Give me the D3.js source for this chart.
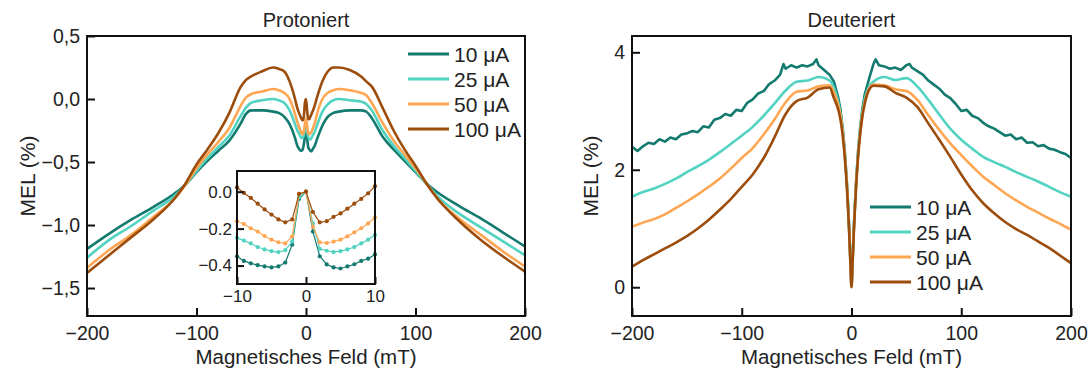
<!DOCTYPE html>
<html>
<head>
<meta charset="utf-8">
<script src="https://cdn.jsdelivr.net/npm/d3@7"></script>
<style>
  body { margin: 0; background: #fff; }
  text { font-family: "Liberation Sans", Arial, sans-serif; fill: #222; }
</style>
</head>
<body>
<div id="chart"></div>
<script>
// series labels and colours
const seriesNames = ['10 μA', '25 μA', '50 μA', '100 μA'];
const seriesColors = ['#137a6f', '#52d3c2', '#ffa653', '#9c4d0c'];

// Protoniert (main panel)
const protX = [-200,-180,-160,-140,-120,-110,-100,-90,-80,-70,-60,-55,-50,-40,-30,-25,-20,-15,-10,-8,-6,-5,-4,-3,-2,-1,0,
  1,2,3,4,5,6,8,10,15,20,25,30,40,50,55,60,70,80,90,100,110,120,140,160,180,200];
const prot10 = [-1.19,-1.07,-0.96,-0.86,-0.75,-0.68,-0.58,-0.49,-0.41,-0.33,-0.20,-0.12,-0.09,-0.09,-0.10,-0.11,-0.14,-0.20,-0.31,-0.37,-0.40,-0.41,-0.41,-0.40,-0.36,-0.30,-0.25,
  -0.31,-0.38,-0.40,-0.41,-0.415,-0.40,-0.37,-0.32,-0.21,-0.14,-0.11,-0.10,-0.09,-0.09,-0.10,-0.15,-0.30,-0.40,-0.49,-0.58,-0.67,-0.74,-0.85,-0.95,-1.06,-1.17];
const prot25 = [-1.26,-1.12,-1.01,-0.89,-0.77,-0.68,-0.57,-0.47,-0.38,-0.29,-0.14,-0.07,-0.03,-0.01,0.00,-0.01,-0.03,-0.09,-0.20,-0.25,-0.28,-0.30,-0.31,-0.31,-0.29,-0.24,-0.20,
  -0.25,-0.30,-0.32,-0.32,-0.31,-0.29,-0.26,-0.21,-0.10,-0.04,-0.01,0.00,-0.01,-0.02,-0.04,-0.09,-0.25,-0.37,-0.47,-0.57,-0.67,-0.77,-0.91,-1.02,-1.13,-1.24];
const prot50 = [-1.34,-1.20,-1.08,-0.94,-0.79,-0.68,-0.55,-0.44,-0.34,-0.23,-0.06,0.01,0.04,0.06,0.08,0.07,0.05,0.00,-0.12,-0.18,-0.23,-0.25,-0.27,-0.28,-0.26,-0.20,-0.16,
  -0.21,-0.27,-0.28,-0.27,-0.26,-0.24,-0.19,-0.12,0.00,0.05,0.07,0.08,0.07,0.05,0.03,-0.03,-0.19,-0.33,-0.44,-0.55,-0.67,-0.79,-0.95,-1.08,-1.21,-1.33];
const prot100 = [-1.38,-1.24,-1.10,-0.96,-0.79,-0.67,-0.52,-0.40,-0.27,-0.11,0.09,0.15,0.18,0.22,0.25,0.24,0.22,0.14,0.00,-0.07,-0.12,-0.14,-0.16,-0.17,-0.14,-0.03,0.00,
  -0.09,-0.16,-0.16,-0.14,-0.12,-0.10,-0.05,0.01,0.14,0.22,0.25,0.25,0.23,0.18,0.14,0.10,-0.07,-0.25,-0.40,-0.53,-0.67,-0.79,-0.97,-1.12,-1.25,-1.37];

// Protoniert inset (-10 ... 10 mT, 1 mT steps)
const insetX = [-10,-9,-8,-7,-6,-5,-4,-3,-2,-1,0,1,2,3,4,5,6,7,8,9,10];
const inset10 = [-0.35,-0.375,-0.388,-0.398,-0.405,-0.41,-0.405,-0.384,-0.287,-0.039,0,-0.216,-0.35,-0.394,-0.41,-0.416,-0.405,-0.393,-0.375,-0.363,-0.34];
const inset25 = [-0.25,-0.265,-0.28,-0.30,-0.313,-0.322,-0.327,-0.317,-0.27,-0.03,0,-0.172,-0.31,-0.32,-0.327,-0.322,-0.313,-0.30,-0.28,-0.26,-0.234];
const inset50 = [-0.16,-0.175,-0.198,-0.216,-0.24,-0.26,-0.274,-0.28,-0.242,-0.012,0,-0.19,-0.274,-0.278,-0.27,-0.26,-0.242,-0.22,-0.198,-0.172,-0.14];
const inset100 = [0.023,-0.007,-0.034,-0.065,-0.096,-0.124,-0.15,-0.166,-0.15,-0.012,0,-0.11,-0.166,-0.16,-0.136,-0.118,-0.092,-0.065,-0.039,-0.009,0.03];

// Deuteriert
const deutX = [-200,-190,-180,-170,-160,-150,-140,-130,-120,-110,-100,-90,-80,-70,-60,-50,-40,-30,-20,-16,-12,-10,-8,-6,-4,-3,-2,-1,0,
  1,2,3,4,6,8,10,12,16,20,30,40,50,60,70,80,90,100,110,120,130,140,150,160,170,180,190,200];
const deut25 = [1.54,1.62,1.68,1.76,1.85,1.96,2.06,2.17,2.30,2.44,2.58,2.73,2.92,3.13,3.35,3.50,3.52,3.58,3.52,3.40,3.15,2.95,2.65,2.25,1.70,1.35,0.95,0.45,0.02,
  0.45,0.95,1.35,1.70,2.30,2.70,3.00,3.20,3.42,3.50,3.58,3.53,3.56,3.42,3.19,2.94,2.70,2.51,2.36,2.22,2.13,2.05,1.96,1.88,1.80,1.71,1.62,1.54];
const deut50 = [1.03,1.10,1.16,1.24,1.35,1.46,1.58,1.71,1.85,2.02,2.20,2.37,2.60,2.86,3.15,3.33,3.35,3.42,3.44,3.32,3.10,2.92,2.63,2.22,1.68,1.32,0.92,0.42,0.01,
  0.42,0.92,1.32,1.68,2.25,2.66,2.95,3.14,3.38,3.45,3.44,3.37,3.34,3.19,2.93,2.68,2.45,2.25,2.06,1.88,1.74,1.60,1.48,1.37,1.27,1.17,1.08,0.98];
const deut100 = [0.35,0.46,0.56,0.66,0.76,0.87,1.00,1.15,1.32,1.50,1.71,1.92,2.20,2.56,2.95,3.17,3.23,3.37,3.40,3.22,3.02,2.85,2.58,2.18,1.64,1.28,0.88,0.40,0.00,
  0.40,0.88,1.28,1.64,2.22,2.62,2.92,3.12,3.36,3.43,3.42,3.31,3.23,3.07,2.79,2.51,2.22,1.92,1.65,1.43,1.26,1.11,0.99,0.89,0.78,0.67,0.54,0.41];
// the 10 μA trace is noisy, sampled finer
const deut10X = [-200,-195,-190,-185,-180,-175,-170,-165,-160,-155,-150,-145,-140,-135,-130,-125,-120,-115,-110,-105,-100,-95,-90,-85,-80,-75,-70,-65,-62,-60,-55,-50,-45,-40,-35,-32,-30,-25,-20,
  -16,-12,-10,-8,-6,-4,-3,-2,-1,0,1,2,3,4,6,8,10,12,16,
  20,22,25,30,35,40,45,50,53,55,60,65,70,75,80,85,90,95,100,105,110,115,120,125,130,135,140,145,150,155,160,165,170,175,180,185,190,195,200];
const deut10 = [2.39,2.32,2.40,2.46,2.44,2.52,2.48,2.55,2.52,2.60,2.62,2.66,2.64,2.74,2.72,2.85,2.88,2.95,2.92,3.02,3.00,3.14,3.20,3.30,3.34,3.46,3.52,3.62,3.80,3.72,3.78,3.74,3.78,3.76,3.80,3.88,3.78,3.70,3.62,
  3.50,3.22,3.02,2.70,2.28,1.72,1.36,0.96,0.46,0.02,0.46,0.96,1.36,1.72,2.32,2.74,3.05,3.28,3.55,
  3.80,3.88,3.78,3.76,3.72,3.74,3.70,3.78,3.80,3.74,3.68,3.62,3.52,3.45,3.38,3.28,3.22,3.12,3.00,3.02,2.92,2.88,2.80,2.74,2.70,2.64,2.58,2.60,2.52,2.55,2.46,2.47,2.40,2.42,2.36,2.34,2.30,2.27,2.20];

const xTicks = [-200, -100, 0, 100, 200];
const protTicks = [0.5, 0, -0.5, -1, -1.5];
const deutTicks = [0, 2, 4];
const insetXTicks = [-10, 0, 10];
const insetYTicks = [0, -0.2, -0.4];

const svg = d3.select('#chart').append('svg')
  .attr('width', 1089)
  .attr('height', 369);

const toSeries = (xs, ys) => xs.map((x, i) => ({x: x, y: ys[i]}));
const comma = v => d3.format('.1f')(v).replace('.', ',');

function drawPanel(opt) {
  const x = d3.scaleLinear().domain([-200, 200]).range([opt.left, opt.right]);
  const y = d3.scaleLinear().domain(opt.yDomain).range([opt.bottom, opt.top]);

  const clipId = 'clip-' + opt.id;
  svg.append('clipPath').attr('id', clipId)
    .append('rect')
    .attr('x', opt.left).attr('y', opt.top)
    .attr('width', opt.right - opt.left).attr('height', opt.bottom - opt.top);

  const g = svg.append('g').attr('clip-path', `url(#${clipId})`);
  opt.series.forEach((s, i) => {
    const line = d3.line()
      .x(d => x(d.x))
      .y(d => y(d.y))
      .curve(s.curve || d3.curveMonotoneX);
    g.append('path')
      .datum(s.data)
      .attr('fill', 'none')
      .attr('stroke', seriesColors[i])
      .attr('stroke-width', 2.6)
      .attr('stroke-linejoin', 'round')
      .attr('d', line);
  });

  // axes, ticks pointing inwards
  const xAxis = svg.append('g')
    .attr('transform', `translate(0,${opt.bottom})`)
    .call(d3.axisBottom(x).tickValues(xTicks).tickSize(-8).tickPadding(10));
  const yAxis = svg.append('g')
    .attr('transform', `translate(${opt.left},0)`)
    .call(d3.axisLeft(y).tickValues(opt.yTicks).tickFormat(opt.yFormat).tickSize(-8).tickPadding(7));
  [xAxis, yAxis].forEach(a => {
    a.select('.domain').remove();
    a.selectAll('line').attr('stroke', '#111').attr('stroke-width', 2);
    a.selectAll('text').style('font-size', '19.5px').attr('fill', '#222');
  });

  svg.append('rect')
    .attr('x', opt.left).attr('y', opt.top)
    .attr('width', opt.right - opt.left).attr('height', opt.bottom - opt.top)
    .attr('fill', 'none').attr('stroke', '#111').attr('stroke-width', 2);

  svg.append('text')
    .attr('x', (opt.left + opt.right) / 2).attr('y', 27)
    .attr('text-anchor', 'middle').style('font-size', '20px')
    .text(opt.title);
  svg.append('text')
    .attr('x', (opt.left + opt.right) / 2).attr('y', 364)
    .attr('text-anchor', 'middle').style('font-size', '20.5px')
    .text('Magnetisches Feld (mT)');
  svg.append('text')
    .attr('transform', `translate(${opt.yLabelX},176) rotate(-90)`)
    .attr('text-anchor', 'middle').style('font-size', '21px')
    .text('MEL (%)');

  // legend
  const lg = svg.append('g').attr('transform', `translate(${opt.legendX},${opt.legendY})`);
  seriesNames.forEach((name, i) => {
    const row = lg.append('g').attr('transform', `translate(0,${i * 25})`);
    row.append('line').attr('x1', 0).attr('x2', 41)
      .attr('stroke', seriesColors[i]).attr('stroke-width', 3);
    row.append('text').attr('x', 46).attr('y', 7.5)
      .style('font-size', '21px').text(name);
  });
}

drawPanel({
  id: 'prot', title: 'Protoniert',
  left: 87, right: 525, top: 36, bottom: 316,
  yDomain: [-1.722, 0.5], yTicks: protTicks, yFormat: comma,
  yLabelX: 35, legendX: 408, legendY: 54,
  series: [prot10, prot25, prot50, prot100].map(v => ({data: toSeries(protX, v)}))
});

drawPanel({
  id: 'deut', title: 'Deuteriert',
  left: 632, right: 1071, top: 36, bottom: 316,
  yDomain: [-0.49, 4.278], yTicks: deutTicks, yFormat: d3.format('d'),
  yLabelX: 598, legendX: 870, legendY: 207,
  series: [
    {data: toSeries(deut10X, deut10), curve: d3.curveLinear},
    {data: toSeries(deutX, deut25)},
    {data: toSeries(deutX, deut50)},
    {data: toSeries(deutX, deut100)}
  ]
});

// inset of the Protoniert panel
const ix = d3.scaleLinear().domain([-10, 10]).range([237, 375]);
const iy = d3.scaleLinear().domain([-0.5, 0.112]).range([284, 171]);
const inset = svg.append('g');
inset.append('rect').attr('x', 237).attr('y', 171).attr('width', 138).attr('height', 113).attr('fill', '#fff');
[inset10, inset25, inset50, inset100].forEach((vals, i) => {
  const data = toSeries(insetX, vals);
  inset.append('path')
    .datum(data)
    .attr('fill', 'none')
    .attr('stroke', seriesColors[i])
    .attr('stroke-width', 1.2)
    .attr('d', d3.line().x(d => ix(d.x)).y(d => iy(d.y)));
  inset.selectAll(null)
    .data(data)
    .enter().append('circle')
    .attr('cx', d => ix(d.x))
    .attr('cy', d => iy(d.y))
    .attr('r', 2.1)
    .attr('fill', seriesColors[i]);
});
const ixAxis = inset.append('g').attr('transform', 'translate(0,284)')
  .call(d3.axisBottom(ix).tickValues(insetXTicks).tickSize(-7).tickPadding(6));
const iyAxis = inset.append('g').attr('transform', 'translate(237,0)')
  .call(d3.axisLeft(iy).tickValues(insetYTicks).tickFormat(d3.format('.1f')).tickSize(-7).tickPadding(5));
[ixAxis, iyAxis].forEach(a => {
  a.select('.domain').remove();
  a.selectAll('line').attr('stroke', '#111').attr('stroke-width', 2);
  a.selectAll('text').style('font-size', '17px').attr('fill', '#222');
});
inset.append('rect').attr('x', 237).attr('y', 171).attr('width', 138).attr('height', 113)
  .attr('fill', 'none').attr('stroke', '#111').attr('stroke-width', 2);
</script>
</body>
</html>
